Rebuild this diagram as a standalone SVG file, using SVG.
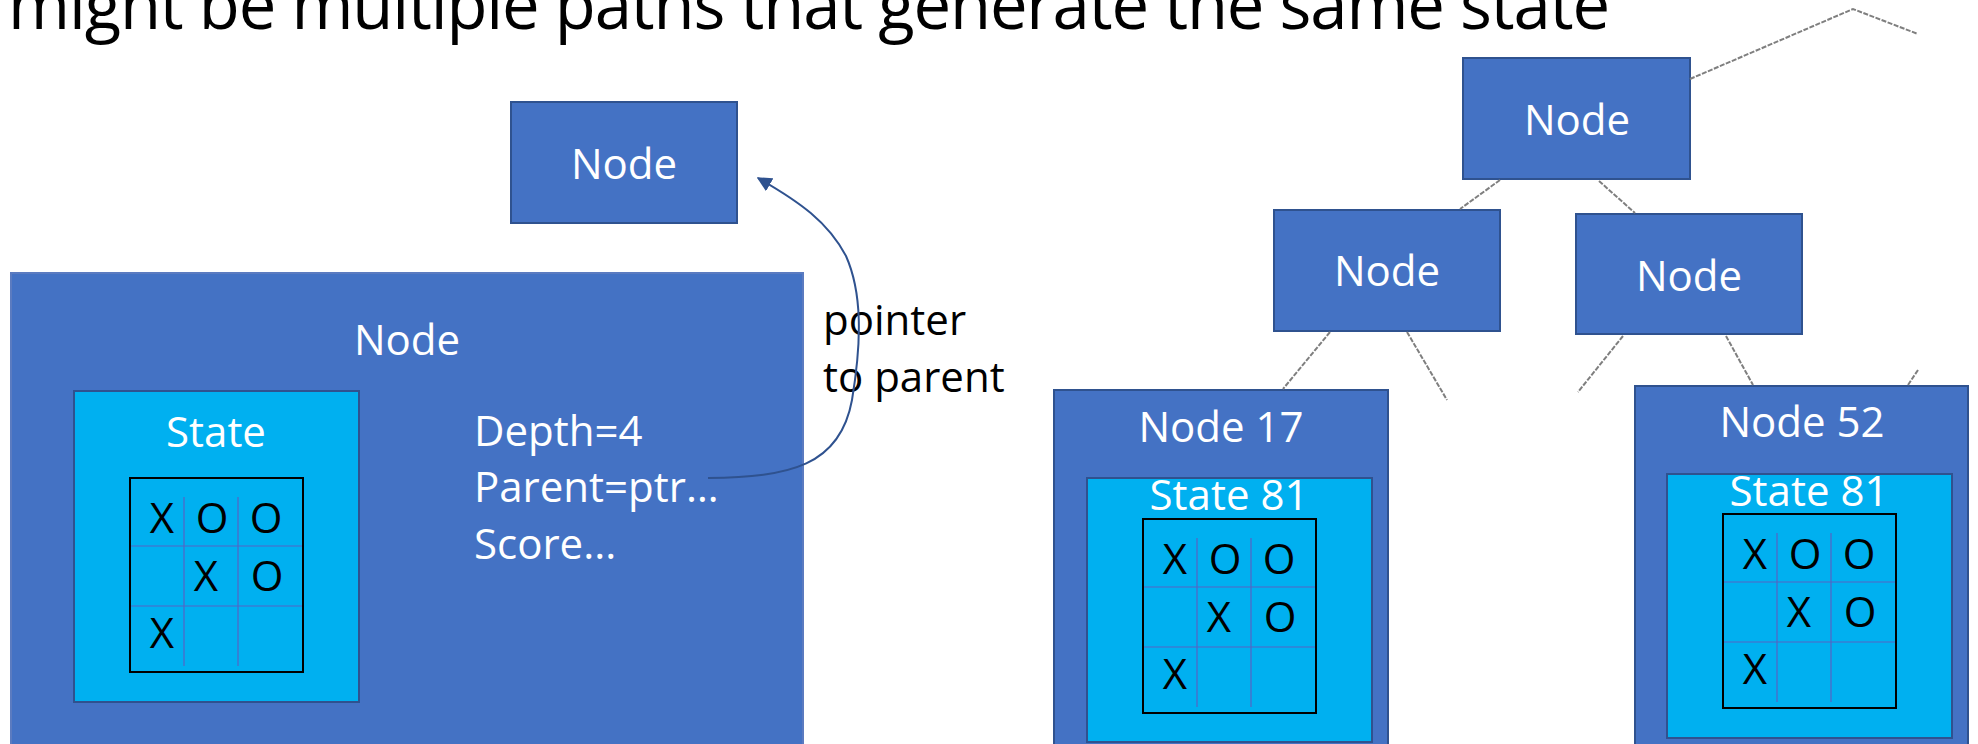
<svg xmlns="http://www.w3.org/2000/svg" width="1978" height="744" viewBox="0 0 1978 744">
<style>
.node{fill:#4472C4;stroke:#2F528F;stroke-width:2}
.state{fill:#00B0F0;stroke:#2F528F;stroke-width:2}
.lbl{font-family:"Open Sans","Liberation Sans",sans-serif;font-size:42px;fill:#FFFFFF;text-anchor:middle}
.info{font-family:"Open Sans","Liberation Sans",sans-serif;font-size:42px;fill:#FFFFFF}
.blk{font-family:"Open Sans","Liberation Sans",sans-serif;font-size:42px;fill:#000000}
.cell{font-family:"Open Sans","Liberation Sans",sans-serif;font-size:42px;fill:#000000;text-anchor:middle}
.gridin{stroke:#5564C4;stroke-width:1.2;fill:none}
.gridout{fill:none;stroke:#000000;stroke-width:2}
.tree{stroke:#7F7F7F;stroke-width:2;fill:none;stroke-dasharray:5 1.5}
</style>
<defs>
<marker id="ah" viewBox="0 0 10 10" refX="9" refY="5" markerWidth="15" markerHeight="15" markerUnits="userSpaceOnUse" orient="auto">
<path d="M0,0 L10,5 L0,10 z" fill="#2F528F"/>
</marker>
<g id="board">
<rect x="130" y="478" width="173" height="194" class="gridout"/>
<line x1="184" y1="497" x2="184" y2="666" class="gridin"/>
<line x1="238" y1="497" x2="238" y2="666" class="gridin"/>
<line x1="131" y1="546" x2="302" y2="546" class="gridin"/>
<line x1="131" y1="606" x2="302" y2="606" class="gridin"/>
<text class="cell" x="162" y="533">X</text>
<text class="cell" x="212" y="533">O</text>
<text class="cell" x="266" y="533">O</text>
<text class="cell" x="206" y="591">X</text>
<text class="cell" x="267" y="591">O</text>
<text class="cell" x="162" y="648">X</text>
</g>
</defs>

<text x="8" y="29" font-family="'Open Sans','Liberation Sans',sans-serif" font-size="67" fill="#000000" textLength="1602">might be multiple paths that generate the same state</text>

<g id="parent-node">
<rect class="node" x="511" y="102" width="226" height="121"/>
<text class="lbl" x="624" y="179">Node</text>
</g>

<g id="big-node">
<rect class="node" x="11" y="273" width="792" height="490" style="stroke:#5B7BC0"/>
<text class="lbl" x="407" y="355">Node</text>
<g id="big-state">
<rect class="state" x="74" y="391" width="285" height="311"/>
<text class="lbl" x="216" y="447">State</text>
<use href="#board"/>
</g>
<text class="info" x="474" y="446">Depth=4</text>
<text class="info" x="474" y="502">Parent=ptr…</text>
<text class="info" x="474" y="559">Score...</text>
</g>

<g id="pointer-label">
<text class="blk" x="823" y="335">pointer</text>
<text class="blk" x="823" y="392">to parent</text>
</g>

<g id="tree-root">
<rect class="node" x="1463" y="58" width="227" height="121"/>
<text class="lbl" x="1577" y="135">Node</text>
</g>
<g id="tree-left">
<rect class="node" x="1274" y="210" width="226" height="121"/>
<text class="lbl" x="1387" y="286">Node</text>
</g>
<g id="tree-right">
<rect class="node" x="1576" y="214" width="226" height="120"/>
<text class="lbl" x="1689" y="291">Node</text>
</g>

<g id="node17">
<rect class="node" x="1054" y="390" width="334" height="370"/>
<text class="lbl" x="1221" y="442">Node 17</text>
<rect class="state" x="1087" y="478" width="285" height="264"/>
<text class="lbl" x="1229" y="510">State 81</text>
<use href="#board" transform="translate(1013,41)"/>
</g>

<g id="node52">
<rect class="node" x="1635" y="386" width="333" height="370"/>
<text class="lbl" x="1802" y="437">Node 52</text>
<rect class="state" x="1667" y="474" width="285" height="264"/>
<text class="lbl" x="1809" y="506">State 81</text>
<use href="#board" transform="translate(1593,36)"/>
</g>

<g id="connectors">
<polyline class="tree" points="1690,79 1853,9 1918,34"/>
<line class="tree" x1="1500" y1="180" x2="1460" y2="209"/>
<line class="tree" x1="1599" y1="181" x2="1635" y2="213"/>
<line class="tree" x1="1330" y1="332" x2="1283" y2="389"/>
<line class="tree" x1="1407" y1="332" x2="1447" y2="400"/>
<line class="tree" x1="1623" y1="336" x2="1578" y2="392"/>
<line class="tree" x1="1726" y1="336" x2="1753" y2="385"/>
<line class="tree" x1="1918" y1="370" x2="1908" y2="385"/>
<path d="M708,478 C790,477 840,466 852,400 C862,340 862,292 846,256 C828,222 800,202 758,178" fill="none" stroke="#2F528F" stroke-width="2" marker-end="url(#ah)"/>
</g>
</svg>
